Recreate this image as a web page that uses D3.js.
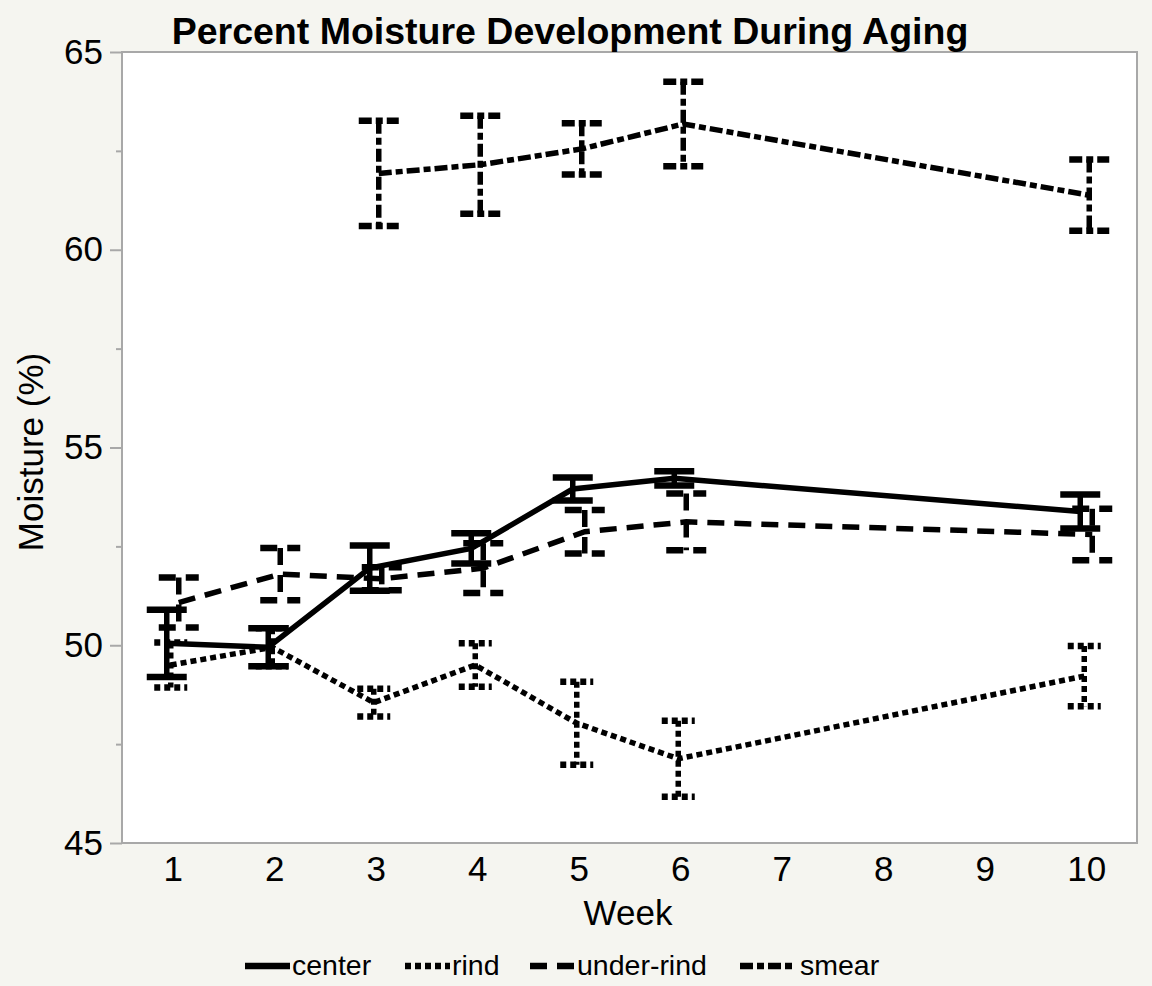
<!DOCTYPE html>
<html>
<head>
<meta charset="utf-8">
<script src="https://cdn.jsdelivr.net/npm/d3@7"></script>
<style>
  html, body { margin: 0; padding: 0; background: #f5f5f0; }
  svg { display: block; font-family: "Liberation Sans", Arial, Helvetica, sans-serif; }
</style>
</head>
<body>
<svg id="chart" width="1152" height="986"></svg>
<script>
// Moisture (%) by week for each cheese zone: mean and error half-width
const weeks = [1, 2, 3, 4, 5, 6, 10];
const smearWeeks = [3, 4, 5, 6, 10];

const centerMean = [50.05, 49.95, 51.95, 52.45, 53.95, 54.22, 53.38];
const centerErr  = [0.85, 0.48, 0.57, 0.38, 0.29, 0.18, 0.43];

const rindMean = [49.5, 49.95, 48.55, 49.5, 48.03, 47.13, 49.22];
const rindErr  = [0.57, 0.48, 0.35, 0.55, 1.05, 0.96, 0.76];

const underRindMean = [51.08, 51.8, 51.68, 51.95, 52.87, 53.12, 52.8];
const underRindErr  = [0.63, 0.66, 0.29, 0.63, 0.55, 0.72, 0.65];

const smearMean = [61.93, 62.15, 62.55, 63.18, 61.38];
const smearErr  = [1.33, 1.24, 0.65, 1.07, 0.9];

const xTicks = [1, 2, 3, 4, 5, 6, 7, 8, 9, 10];
const yTicks = [45, 50, 55, 60, 65];
const yMinorTicks = [47.5, 52.5, 57.5, 62.5];

const series = [
  { name: "center",     x: weeks,      mean: centerMean,    err: centerErr,    dash: null,        shift: -6, cap: 40 },
  { name: "rind",       x: weeks,      mean: rindMean,      err: rindErr,      dash: "6,4",       shift: -2, cap: 33 },
  { name: "under-rind", x: weeks,      mean: underRindMean, err: underRindErr, dash: "17,10",     shift: 6,  cap: 40 },
  { name: "smear",      x: smearWeeks, mean: smearMean,     err: smearErr,     dash: "13,4,7,4",  shift: 3,  cap: 40 }
];

const svg = d3.select("#chart");
const plot = { left: 122, right: 1137, top: 52, bottom: 843 };

const x = d3.scaleLinear().domain([0.5, 10.5]).range([plot.left, plot.right]);
const y = d3.scaleLinear().domain([45, 65]).range([plot.bottom, plot.top]);

// plot background and frame
svg.append("rect")
  .attr("x", plot.left).attr("y", plot.top)
  .attr("width", plot.right - plot.left).attr("height", plot.bottom - plot.top)
  .attr("fill", "#ffffff").attr("stroke", "#a8a8a8").attr("stroke-width", 2);

// y axis: major and minor ticks
const yAxis = svg.append("g").attr("transform", `translate(${plot.left},0)`)
  .call(d3.axisLeft(y).tickValues(yTicks).tickSize(12).tickFormat(d3.format("d")));
yAxis.select(".domain").remove();
yAxis.selectAll(".tick line").attr("stroke", "#a8a8a8").attr("stroke-width", 2);
yAxis.selectAll(".tick text").attr("font-size", 35).attr("fill", "#000")
  .attr("font-family", "Liberation Sans, Arial, sans-serif").attr("dx", -4);

const yMinor = svg.append("g").attr("transform", `translate(${plot.left},0)`)
  .call(d3.axisLeft(y).tickValues(yMinorTicks).tickSize(6).tickFormat(""));
yMinor.select(".domain").remove();
yMinor.selectAll(".tick line").attr("stroke", "#a8a8a8").attr("stroke-width", 2);

// x axis labels (no tick marks)
const xAxis = svg.append("g").attr("transform", `translate(0,${plot.bottom})`)
  .call(d3.axisBottom(x).tickValues(xTicks).tickSize(0).tickFormat(d3.format("d")));
xAxis.select(".domain").remove();
xAxis.selectAll(".tick text").attr("font-size", 35).attr("fill", "#000")
  .attr("font-family", "Liberation Sans, Arial, sans-serif").attr("dy", "1.0em");

// titles
svg.append("text").attr("x", 570).attr("y", 44).attr("text-anchor", "middle")
  .attr("font-size", 37.5).attr("font-weight", "bold")
  .text("Percent Moisture Development During Aging");
svg.append("text").attr("x", 628).attr("y", 925).attr("text-anchor", "middle")
  .attr("font-size", 35).text("Week");
svg.append("text").attr("transform", "translate(43,452) rotate(-90)")
  .attr("text-anchor", "middle").attr("font-size", 35).text("Moisture (%)");

// series lines and error bars
const marks = svg.append("g");
series.forEach(s => {
  const pts = s.x.map((w, i) => ({ w, m: s.mean[i], e: s.err[i] }));
  const px = d => x(d.w) + s.shift;
  const line = d3.line().x(px).y(d => y(d.m));

  const g = marks.append("g").attr("fill", "none").attr("stroke", "#000");

  g.append("path").datum(pts).attr("d", line)
    .attr("stroke-width", 5.5).attr("stroke-dasharray", s.dash);

  g.selectAll(".bar").data(pts).join("line").attr("class", "bar")
    .attr("x1", px).attr("x2", px)
    .attr("y1", d => y(d.m + d.e)).attr("y2", d => y(d.m - d.e))
    .attr("stroke-width", 5.5).attr("stroke-dasharray", s.dash);

  ["hi", "lo"].forEach(k => {
    g.selectAll(".cap-" + k).data(pts).join("line").attr("class", "cap-" + k)
      .attr("x1", d => px(d) - s.cap / 2).attr("x2", d => px(d) + s.cap / 2)
      .attr("y1", d => y(k === "hi" ? d.m + d.e : d.m - d.e))
      .attr("y2", d => y(k === "hi" ? d.m + d.e : d.m - d.e))
      .attr("stroke-width", 6.5).attr("stroke-dasharray", s.dash);
  });
});

// legend
const legendItems = [
  { name: "center",     x0: 245, len: 45 },
  { name: "rind",       x0: 405, len: 45 },
  { name: "under-rind", x0: 530, len: 45 },
  { name: "smear",      x0: 740, len: 52 }
];
const legend = svg.append("g");
legendItems.forEach((it, i) => {
  const s = series[i];
  legend.append("line")
    .attr("x1", it.x0).attr("x2", it.x0 + it.len)
    .attr("y1", 966).attr("y2", 966)
    .attr("stroke", "#000").attr("stroke-width", 6.5)
    .attr("stroke-dasharray", s.dash);
  legend.append("text")
    .attr("x", it.x0 + it.len + (i === 3 ? 8 : 2)).attr("y", 975)
    .attr("font-size", 28.5).text(it.name);
});
</script>
</body>
</html>
